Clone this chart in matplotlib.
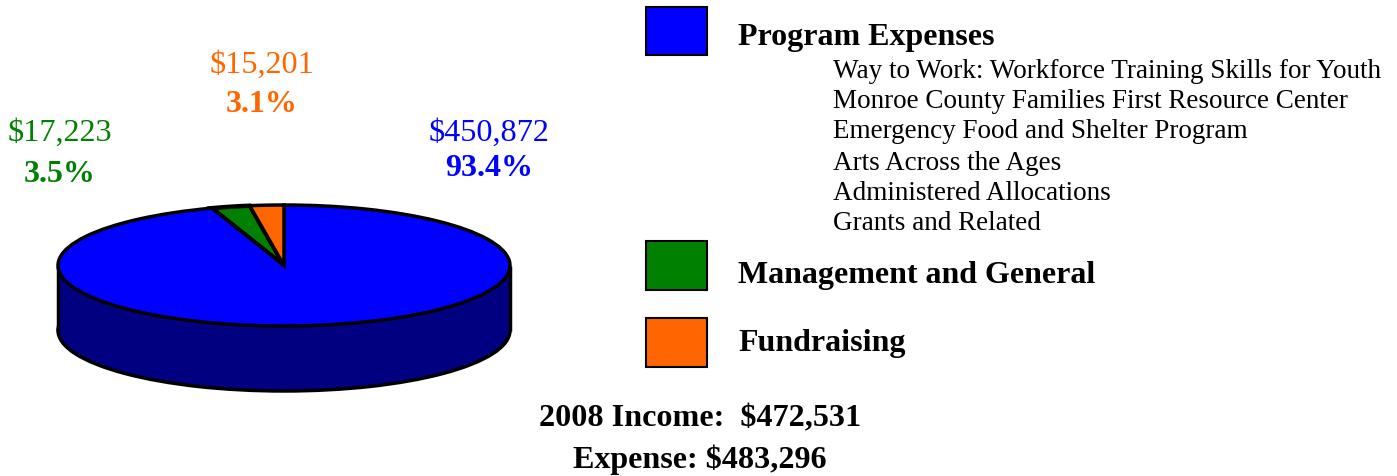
import matplotlib
matplotlib.use("Agg")
import matplotlib.pyplot as plt
from matplotlib.patches import Rectangle

plt.rcParams['font.family'] = ['Liberation Serif', 'DejaVu Serif']

# slices, going counterclockwise from 12 o'clock
slice_names = ['Fundraising', 'Management and General', 'Program Expenses']
amounts = [15201, 17223, 450872]
amount_labels = ['$15,201', '$17,223', '$450,872']
percent_labels = ['3.1%', '3.5%', '93.4%']
colors = ['#ff6600', '#008000', '#0000ff']
side_color = '#000080'

programs = ['Way to Work: Workforce Training Skills for Youth',
            'Monroe County Families First Resource Center',
            'Emergency Food and Shelter Program',
            'Arts Across the Ages',
            'Administered Allocations',
            'Grants and Related']
footer = ['2008 Income:  $472,531', 'Expense: $483,296']

W, H = 1397, 476
fig = plt.figure(figsize=(W / 100, H / 100), dpi=100)

# full figure axes in pixels for text and legend boxes
bg = fig.add_axes([0, 0, 1, 1])
bg.set_xlim(0, W)
bg.set_ylim(H, 0)
bg.axis('off')

# pie axes: a unit circle squashed to the tilted ellipse
left, right, top, mid_bottom = 58, 510, 205, 326
depth = 65 / ((mid_bottom - top) / 2)
ax = fig.add_axes([left / W, 1 - (mid_bottom + 65) / H, (right - left) / W, (mid_bottom + 65 - top) / H])

# the tilted view makes the thin slices at the back look narrower
total = sum(amounts)
back_squeeze = 0.77
small = [a / total * back_squeeze for a in amounts[:2]]
fractions = small + [1 - sum(small)]

edge = dict(edgecolor='black', linewidth=2.5)
ax.pie([1], colors=[side_color], center=(0, -depth), radius=1, wedgeprops=edge)
ax.add_patch(Rectangle((-1, -depth), 2, depth, facecolor=side_color, edgecolor='none', zorder=3))
ax.plot([-1, -1], [-depth, 0], color='black', lw=2.5, zorder=4, solid_capstyle='butt')
ax.plot([1, 1], [-depth, 0], color='black', lw=2.5, zorder=4, solid_capstyle='butt')
wedges, _ = ax.pie(fractions, colors=colors, startangle=90, counterclock=True, normalize=False, wedgeprops=edge)
for w in wedges:
    w.set_zorder(5)
wedges[1].set_linewidth(3.2)
wedges[0].set_zorder(6)
ax.set_aspect('auto')
ax.set_xlim(-1, 1)
ax.set_ylim(-1 - depth, 1)
ax.axis('off')
for a in ax.get_children():
    a.set_clip_on(False)

# amount and percent labels
label_x = [262, 60, 489]
amount_y = [65, 133, 133]
pct_y = [105, 175, 169]
for i in range(3):
    bg.text(label_x[i], amount_y[i], amount_labels[i], color=colors[i], fontsize=23.2, ha='center', va='center')
    bg.text(label_x[i], pct_y[i], percent_labels[i], color=colors[i], fontsize=23, fontweight='bold', ha='center', va='center')

# legend
box_y = [(7, 55), (241, 290), (318, 367)]
legend_y = [38, 275, 343]
order = [2, 1, 0]
for j, i in enumerate(order):
    y0, y1 = box_y[j]
    bg.add_patch(Rectangle((646, y0), 61, y1 - y0, facecolor=colors[i], edgecolor='black', lw=1.5))
    bg.text(738, legend_y[j], slice_names[i], fontsize=23, fontweight='bold', ha='left', va='center')

program_y = [71, 102, 132, 163, 193, 224]
for name, y in zip(programs, program_y):
    bg.text(833, y, name, fontsize=19.5, ha='left', va='center')

bg.text(700, 419, footer[0], fontsize=23.1, fontweight='bold', ha='center', va='center')
bg.text(700, 460, footer[1], fontsize=23.1, fontweight='bold', ha='center', va='center')

fig.savefig('out.png', dpi=100, facecolor='white')
